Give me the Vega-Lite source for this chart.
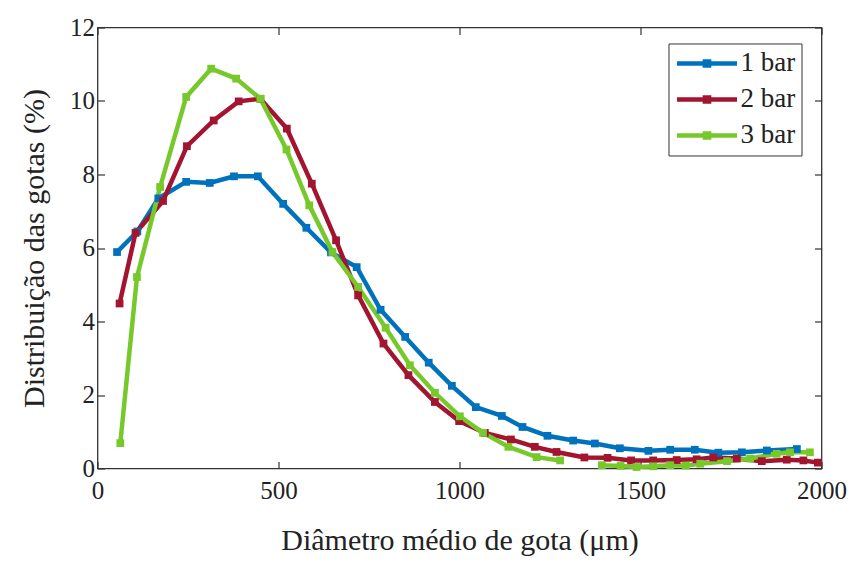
{
  "$schema": "https://vega.github.io/schema/vega-lite/v6.json",
  "autosize": {"type": "none"},
  "padding": {"left": 97.5, "top": 27.5, "right": 32.5, "bottom": 93.8},
  "width": 724,
  "height": 441,
  "background": "white",
  "config": {
    "view": {"stroke": "#333333", "strokeWidth": 1.3},
    "font": "Liberation Serif",
    "axis": {"grid": false, "domain": false, "tickColor": "#333333", "tickSize": -7, "tickWidth": 1.2, "labelFlush": false,
             "labelFont": "Liberation Serif", "labelFontSize": 25, "labelColor": "#222222",
             "titleFont": "Liberation Serif", "titleFontSize": 30, "titleFontWeight": "normal", "titleColor": "#222222"}
  },
  "data": {"values": [
    {"s":"1 bar","d":54,"v":5.89},{"s":"1 bar","d":110,"v":6.45},{"s":"1 bar","d":168,"v":7.35},{"s":"1 bar","d":245,"v":7.8},{"s":"1 bar","d":310,"v":7.77},{"s":"1 bar","d":377,"v":7.95},{"s":"1 bar","d":443,"v":7.95},{"s":"1 bar","d":513,"v":7.2},{"s":"1 bar","d":577,"v":6.55},{"s":"1 bar","d":645,"v":5.88},{"s":"1 bar","d":716,"v":5.48},{"s":"1 bar","d":782,"v":4.32},{"s":"1 bar","d":850,"v":3.58},{"s":"1 bar","d":915,"v":2.88},{"s":"1 bar","d":979,"v":2.25},{"s":"1 bar","d":1045,"v":1.67},{"s":"1 bar","d":1117,"v":1.43},{"s":"1 bar","d":1174,"v":1.13},{"s":"1 bar","d":1243,"v":0.89},{"s":"1 bar","d":1314,"v":0.76},{"s":"1 bar","d":1374,"v":0.68},{"s":"1 bar","d":1443,"v":0.55},{"s":"1 bar","d":1522,"v":0.48},{"s":"1 bar","d":1582,"v":0.51},{"s":"1 bar","d":1650,"v":0.51},{"s":"1 bar","d":1715,"v":0.43},{"s":"1 bar","d":1780,"v":0.44},{"s":"1 bar","d":1849,"v":0.49},{"s":"1 bar","d":1932,"v":0.53},
    {"s":"2 bar","d":61,"v":4.49},{"s":"2 bar","d":105,"v":6.41},{"s":"2 bar","d":181,"v":7.28},{"s":"2 bar","d":247,"v":8.77},{"s":"2 bar","d":321,"v":9.47},{"s":"2 bar","d":390,"v":9.99},{"s":"2 bar","d":450,"v":10.06},{"s":"2 bar","d":523,"v":9.25},{"s":"2 bar","d":592,"v":7.75},{"s":"2 bar","d":659,"v":6.21},{"s":"2 bar","d":720,"v":4.71},{"s":"2 bar","d":790,"v":3.4},{"s":"2 bar","d":859,"v":2.54},{"s":"2 bar","d":932,"v":1.81},{"s":"2 bar","d":999,"v":1.29},{"s":"2 bar","d":1070,"v":0.97},{"s":"2 bar","d":1142,"v":0.79},{"s":"2 bar","d":1208,"v":0.59},{"s":"2 bar","d":1268,"v":0.45},{"s":"2 bar","d":1345,"v":0.3},{"s":"2 bar","d":1409,"v":0.29},{"s":"2 bar","d":1474,"v":0.22},{"s":"2 bar","d":1535,"v":0.22},{"s":"2 bar","d":1600,"v":0.23},{"s":"2 bar","d":1655,"v":0.25},{"s":"2 bar","d":1701,"v":0.3},{"s":"2 bar","d":1766,"v":0.27},{"s":"2 bar","d":1835,"v":0.2},{"s":"2 bar","d":1904,"v":0.24},{"s":"2 bar","d":1950,"v":0.22},{"s":"2 bar","d":1990,"v":0.16},
    {"s":"3 bar","d":63,"v":0.69},{"s":"3 bar","d":109,"v":5.21},{"s":"3 bar","d":173,"v":7.66},{"s":"3 bar","d":245,"v":10.11},{"s":"3 bar","d":314,"v":10.88},{"s":"3 bar","d":383,"v":10.61},{"s":"3 bar","d":450,"v":10.06},{"s":"3 bar","d":522,"v":8.68},{"s":"3 bar","d":585,"v":7.16},{"s":"3 bar","d":649,"v":5.89},{"s":"3 bar","d":720,"v":4.94},{"s":"3 bar","d":796,"v":3.83},{"s":"3 bar","d":863,"v":2.81},{"s":"3 bar","d":932,"v":2.06},{"s":"3 bar","d":1001,"v":1.42},{"s":"3 bar","d":1065,"v":0.97},{"s":"3 bar","d":1135,"v":0.59},{"s":"3 bar","d":1213,"v":0.31},{"s":"3 bar","d":1278,"v":0.22},{"s":"3 bar","d":1335,"v":null},{"s":"3 bar","d":1393,"v":0.09},{"s":"3 bar","d":1445,"v":0.07},{"s":"3 bar","d":1489,"v":0.04},{"s":"3 bar","d":1535,"v":0.06},{"s":"3 bar","d":1582,"v":0.09},{"s":"3 bar","d":1625,"v":0.08},{"s":"3 bar","d":1665,"v":0.13},{"s":"3 bar","d":1739,"v":0.2},{"s":"3 bar","d":1803,"v":0.27},{"s":"3 bar","d":1876,"v":0.4},{"s":"3 bar","d":1913,"v":0.44},{"s":"3 bar","d":1968,"v":0.44}
  ]},
  "layer": [
    {
      "mark": {"type": "line", "strokeWidth": 4.5, "invalid": "break-paths-filter-domains",
               "point": {"shape": "square", "size": 60, "filled": true, "opacity": 1}},
      "encoding": {
        "x": {"field": "d", "type": "quantitative", "scale": {"domain": [0, 2000], "nice": false, "zero": false},
              "axis": {"orient": "bottom", "values": [0, 500, 1000, 1500, 2000], "format": "d", "labelPadding": 17, "titlePadding": 22,
                       "title": "Diâmetro médio de gota (μm)"}},
        "y": {"field": "v", "type": "quantitative", "scale": {"domain": [0, 12], "nice": false, "zero": false},
              "axis": {"orient": "left", "values": [0, 2, 4, 6, 8, 10, 12], "labelPadding": 10, "titlePadding": 20,
                       "title": "Distribuição das gotas (%)"}},
        "color": {"field": "s", "type": "nominal",
                  "scale": {"domain": ["1 bar", "2 bar", "3 bar"], "range": ["#0072BD", "#A2142F", "#77C92B"]},
                  "legend": {"title": null, "orient": "none", "legendX": 571, "legendY": 16,
                             "symbolType": "M-1,0H1M-0.07,-0.07H0.07V0.07H-0.07Z", "symbolSize": 3600, "symbolStrokeWidth": 4.5,
                             "labelFont": "Liberation Serif", "labelFontSize": 27, "labelColor": "#222222", "labelOffset": 1,
                             "strokeColor": "#333333", "fillColor": "white", "padding": 6, "rowPadding": 8, "clipHeight": 28}}
      }
    },
    {
      "mark": {"type": "point", "opacity": 0},
      "encoding": {
        "x": {"field": "d", "type": "quantitative", "scale": {"domain": [0, 2000], "nice": false, "zero": false},
              "axis": {"orient": "top", "values": [0, 500, 1000, 1500, 2000], "labels": false, "title": null}},
        "y": {"field": "v", "type": "quantitative", "scale": {"domain": [0, 12], "nice": false, "zero": false},
              "axis": {"orient": "right", "values": [0, 2, 4, 6, 8, 10, 12], "labels": false, "title": null}}
      }
    }
  ],
  "resolve": {"axis": {"x": "independent", "y": "independent"}}
}
